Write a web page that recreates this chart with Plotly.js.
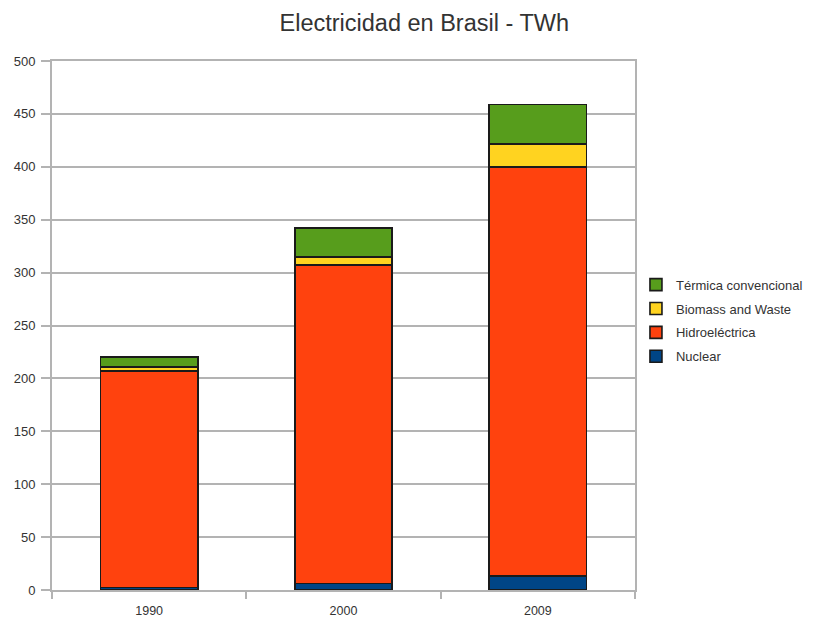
<!DOCTYPE html>
<html>
<head>
<meta charset="utf-8">
<script src="https://cdn.plot.ly/plotly-3.0.1.min.js"></script>
<style>html,body{margin:0;padding:0;background:#fff;}#chart{width:827px;height:619px;}</style>
</head>
<body>
<div id="chart"></div>
<script>
const years = ['1990', '2000', '2009'];
const nuclear = [2.2, 6.0, 13.5];
const hidro = [204.8, 301.0, 386.5];
const biomass = [3.5, 7.5, 21.5];
const termica = [10.0, 27.5, 37.5];
const yTicks = [0, 50, 100, 150, 200, 250, 300, 350, 400, 450, 500];

const outline = {color: '#1a1a1a', width: 1.6};
function tr(name, y, color, rank) {
  return {type: 'bar', name: name, x: years, y: y, width: 0.5, legendgroup: name, legendrank: rank,
    marker: {color: color, line: outline}, hoverinfo: 'y'};
}
const data = [
  tr('Nuclear', nuclear, '#004586', 4),
  tr('Hidroeléctrica', hidro, '#ff420e', 3),
  tr('Biomass and Waste', biomass, '#ffd320', 2),
  tr('Térmica convencional', termica, '#579d1c', 1)
];
const layout = {
  width: 827, height: 619,
  margin: {l: 52, r: 192, t: 61, b: 29, autoexpand: false},
  barmode: 'stack',
  paper_bgcolor: '#fff', plot_bgcolor: '#fff',
  font: {family: 'Liberation Sans, Arial, sans-serif', color: '#333', size: 12},
  title: {text: 'Electricidad en Brasil - TWh', x: 0.513, xanchor: 'center', y: 0.963, yanchor: 'middle',
    font: {size: 23.5, color: '#333', family: 'Liberation Sans, Arial, sans-serif'}},
  xaxis: {type: 'category', showgrid: false, showline: true, linecolor: '#b3b3b3', linewidth: 2,
    mirror: true, ticks: 'outside', tickson: 'boundaries', ticklen: 7, tickcolor: '#b3b3b3', tickwidth: 2,
    ticklabelstandoff: 8, tickfont: {size: 12.5, color: '#333'}, fixedrange: true},
  yaxis: {range: [0, 500], tickvals: yTicks, showgrid: true, gridcolor: '#b3b3b3', gridwidth: 2,
    showline: true, linecolor: '#b3b3b3', linewidth: 2, mirror: true, zeroline: false,
    ticks: 'outside', ticklen: 9, tickcolor: '#b3b3b3', tickwidth: 2, ticklabelstandoff: 3,
    tickfont: {size: 13, color: '#333'}, fixedrange: true},
  legend: {xref: 'container', yref: 'container', x: 0.769, y: 0.482, xanchor: 'left', yanchor: 'middle',
    traceorder: 'grouped', tracegroupgap: 4, bgcolor: 'rgba(0,0,0,0)',
    font: {size: 13, color: '#333'}, itemwidth: 30},
  showlegend: true
};
Plotly.newPlot('chart', data, layout, {displayModeBar: false, staticPlot: true});
</script>
</body>
</html>
